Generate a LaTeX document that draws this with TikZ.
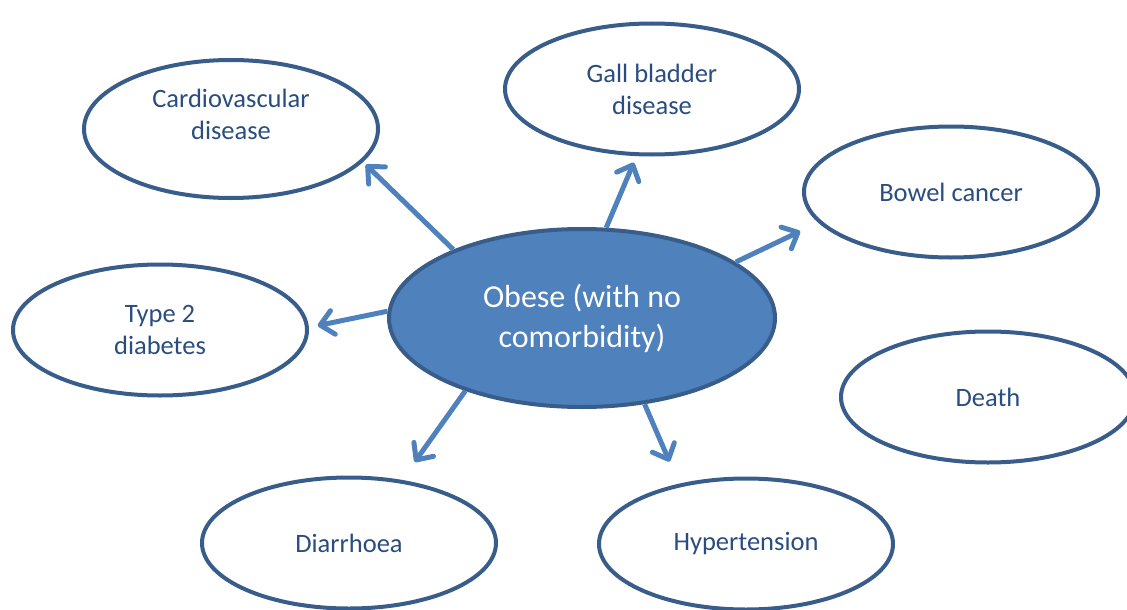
\documentclass[tikz,border=0pt]{standalone}
\usepackage{fontspec}
\setmainfont{Carlito}
\usetikzlibrary{shapes.geometric, arrows.meta}

\definecolor{ringblue}{HTML}{385D8A}
\definecolor{linkblue}{HTML}{4F81BD}
\definecolor{labelblue}{HTML}{2A4D80}

\begin{document}
\begin{tikzpicture}[x=1pt, y=-1pt,
    outcome/.style={ellipse, draw=ringblue, line width=4pt, fill=white,
        minimum width=294pt, minimum height=131pt, inner sep=0pt,
        align=center, text=labelblue, font=\fontsize{26.5}{32}\selectfont},
    link/.style={draw=linkblue, line width=5pt,
        -{Straight Barb[length=13pt, width=24pt, round]}}]
    \useasboundingbox (0,0) rectangle (1127,610);

    % Centre
    \node[outcome, fill=linkblue, text=white, minimum width=386pt, minimum height=178pt,
        font=\fontsize{32}{40}\selectfont] (obese) at (582,318) {Obese (with no\\comorbidity)};

    % Outcomes
    \node[outcome, minimum height=138pt, text depth=30pt] (cardio) at (231,129) {Cardiovascular\\disease};
    \node[outcome] (gall) at (652,89) {Gall bladder\\disease};
    \node[outcome] (bowel) at (951,192) {Bowel cancer};
    \node[outcome] (type2) at (160,330) {Type 2\\diabetes};
    \node[outcome] (death) at (988,397) {Death};
    \node[outcome] (diarrhoea) at (349,543) {Diarrhoea};
    \node[outcome] (hyper) at (746,544) {Hypertension};

    % Links
    \draw[link, shorten >=4pt] (obese.152) -- (cardio.346);
    \draw[link, shorten >=7pt] (obese.75) -- (gall.257);
    \draw[link, shorten >=20pt] (obese.20) -- (bowel.193);
    \draw[link, shorten >=9pt] (obese.178) -- (type2.1);
    \draw[link, shorten >=22pt] (obese.212) -- (diarrhoea.50);
    \draw[link, shorten >=24pt] (obese.306) -- (hyper.138);

\end{tikzpicture}
\end{document}
